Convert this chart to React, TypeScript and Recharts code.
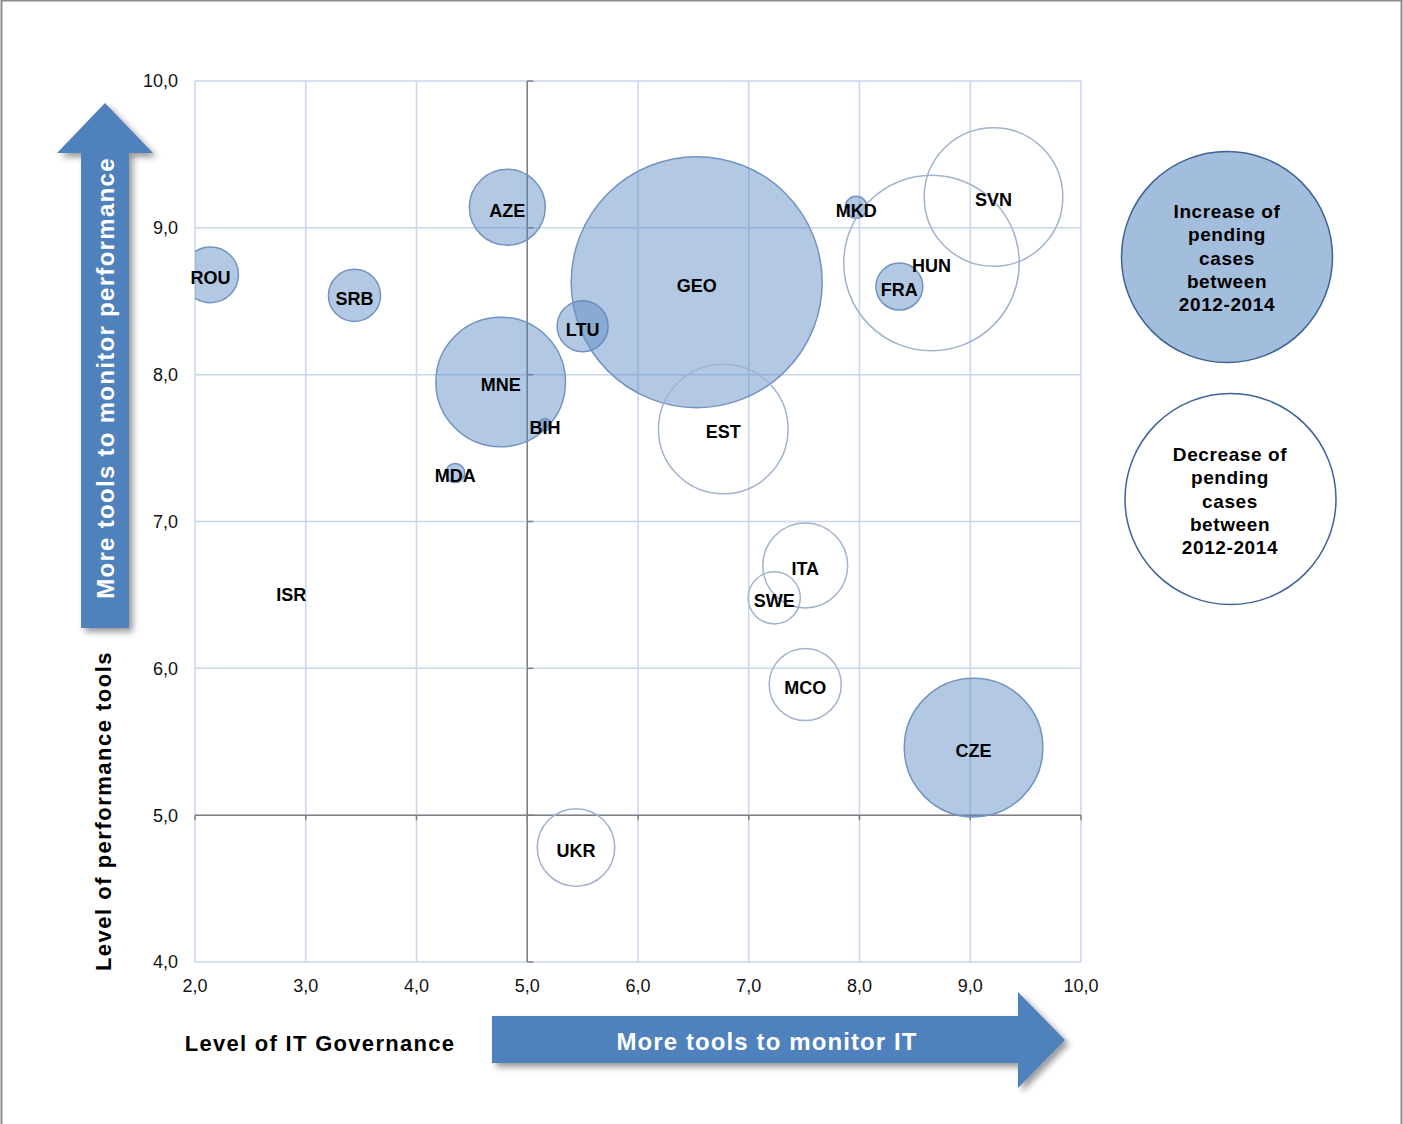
import { ScatterChart, Scatter, XAxis, YAxis, ZAxis, CartesianGrid, ReferenceLine, LabelList } from 'recharts'

const FONT = '"Liberation Sans", Arial, Helvetica, sans-serif'

// bubbles where pending cases went up between 2012 and 2014
const increaseNames = ['ROU', 'SRB', 'AZE', 'MNE', 'MDA', 'BIH', 'LTU', 'GEO', 'MKD', 'FRA', 'CZE']
const increaseIT = [2.14, 3.44, 4.82, 4.76, 4.35, 5.16, 5.5, 6.53, 7.97, 8.36, 9.03]
const increasePerf = [8.68, 8.54, 9.14, 7.95, 7.33, 7.66, 8.33, 8.63, 9.14, 8.6, 5.46]
const increaseSize = [7.8, 6.8, 14.4, 42, 0.9, 0.36, 6.5, 157.5, 1.2, 5.5, 48]

// bubbles where pending cases went down
const decreaseNames = ['ISR', 'UKR', 'EST', 'SWE', 'ITA', 'MCO', 'HUN', 'SVN']
const decreaseIT = [2.87, 5.44, 6.77, 7.23, 7.51, 7.51, 8.65, 9.21]
const decreasePerf = [6.52, 4.78, 7.63, 6.48, 6.7, 5.89, 8.76, 9.21]
const decreaseSize = [0, 15, 42, 6.8, 18, 13, 77, 48]

const xTicks = [2, 3, 4, 5, 6, 7, 8, 9, 10]
const yTicks = [4, 5, 6, 7, 8, 9, 10]

const MAX_SIZE = 157.5
const MAX_RADIUS = 125.5

const W = 1403
const H = 1124
const MARGIN = { top: 81, right: 322, bottom: 132, left: 135 }
const Y_AXIS_W = 60
const X_AXIS_H = 30
const PLOT = {
  x: MARGIN.left + Y_AXIS_W,
  y: MARGIN.top,
  w: W - MARGIN.left - Y_AXIS_W - MARGIN.right,
  h: H - MARGIN.top - MARGIN.bottom - X_AXIS_H,
}

const toPoints = (names: string[], xs: number[], ys: number[], sizes: number[]) =>
  names.map((name, i) => ({ name, x: xs[i], y: ys[i], z: sizes[i] }))

const increaseData = toPoints(increaseNames, increaseIT, increasePerf, increaseSize)
const decreaseData = toPoints(decreaseNames, decreaseIT, decreasePerf, decreaseSize)

const fmt = (v: number) => v.toFixed(1).replace('.', ',')

const AXIS_GRAY = '#808080'
const tickStyle = { fontSize: 18, fill: '#111', fontFamily: FONT }
const labelStyle = {
  fontSize: 18,
  fontWeight: 'bold' as const,
  fill: '#000',
  fontFamily: FONT,
  transform: 'translateY(3px)',
}

// excel clips bubbles to the plot area
function Bubble(props: any) {
  const { cx, cy, size, fill, fillOpacity, stroke, strokeWidth } = props
  const r = Math.sqrt(Math.max(size ?? 0, 0) / Math.PI)
  if (!r) return null
  return (
    <circle
      cx={cx}
      cy={cy}
      r={r}
      fill={fill}
      fillOpacity={fillOpacity}
      stroke={stroke}
      strokeWidth={strokeWidth}
      clipPath="url(#plot-clip)"
    />
  )
}

function Overlay() {
  const boldText = { fontFamily: FONT, fontWeight: 'bold' as const }
  return (
    <svg width={W} height={H} style={{ position: 'absolute', left: 0, top: 0, pointerEvents: 'none' }}>
      <defs>
        <filter id="shadow" x="-30%" y="-30%" width="160%" height="160%">
          <feDropShadow dx="4" dy="4" stdDeviation="3" floodColor="#000" floodOpacity="0.4" />
        </filter>
        <clipPath id="plot-clip" clipPathUnits="userSpaceOnUse">
          <rect x={PLOT.x} y={PLOT.y} width={PLOT.w} height={PLOT.h} />
        </clipPath>
      </defs>
      <polyline points={`1.5,${H} 1.5,0.5 1401.5,0.5 1401.5,${H}`} fill="none" stroke="#8c8c8c" strokeWidth={2} />

      {/* up arrow */}
      <polygon points="81,628 81,153 57,153 105,103 153,153 129,153 129,628" fill="#4f81bd" filter="url(#shadow)" />
      <text x={105} y={378} transform="rotate(-90 105 378)" textAnchor="middle" dominantBaseline="central"
        fill="#fff" fontSize={24} letterSpacing={1.3} {...boldText}>
        More tools to monitor performance
      </text>
      <text x={103} y={811} transform="rotate(-90 103 811)" textAnchor="middle" dominantBaseline="central"
        fill="#000" fontSize={22} letterSpacing={1.5} {...boldText}>
        Level of performance tools
      </text>

      {/* right arrow */}
      <polygon points="492,1016 1018,1016 1018,992 1065,1040 1018,1088 1018,1063 492,1063" fill="#4f81bd" filter="url(#shadow)" />
      <text x={767} y={1041} textAnchor="middle" dominantBaseline="central" fill="#fff" fontSize={24}
        letterSpacing={1.1} {...boldText}>
        More tools to monitor IT
      </text>
      <text x={320} y={1043} textAnchor="middle" dominantBaseline="central" fill="#000" fontSize={22}
        letterSpacing={1.3} {...boldText}>
        Level of IT Governance
      </text>

      {/* legend bubbles */}
      <circle cx={1227} cy={257} r={105.5} fill="#a3bddd" stroke="#3f6297" strokeWidth={1.5} />
      <text textAnchor="middle" fill="#000" fontSize={19} letterSpacing={0.6} {...boldText}>
        {['Increase of', 'pending', 'cases', 'between', '2012-2014'].map((t, i) => (
          <tspan key={t} x={1227} y={218 + i * 23.3}>{t}</tspan>
        ))}
      </text>
      <circle cx={1230.5} cy={499} r={105.5} fill="#fff" stroke="#3f6297" strokeWidth={1.5} />
      <text textAnchor="middle" fill="#000" fontSize={19} letterSpacing={0.6} {...boldText}>
        {['Decrease of', 'pending', 'cases', 'between', '2012-2014'].map((t, i) => (
          <tspan key={t} x={1230} y={461 + i * 23.3}>{t}</tspan>
        ))}
      </text>
    </svg>
  )
}

export default function App() {
  return (
    <div style={{ position: 'absolute', left: 0, top: 0, width: W, height: H, background: '#fff' }}>
      <Overlay />
      <div style={{ position: 'absolute', left: 0, top: 0 }}>
        <ScatterChart width={W} height={H} margin={MARGIN}>
          <CartesianGrid stroke="#c8d6ee" strokeWidth={1.5} />
          <XAxis
            type="number"
            dataKey="x"
            domain={[2, 10]}
            ticks={xTicks}
            allowDataOverflow
            tickFormatter={fmt}
            axisLine={false}
            tickLine={false}
            tickSize={0}
            tickMargin={17}
            height={X_AXIS_H}
            tick={tickStyle}
          />
          <YAxis
            type="number"
            dataKey="y"
            domain={[4, 10]}
            ticks={yTicks}
            allowDataOverflow
            tickFormatter={fmt}
            axisLine={false}
            tickLine={false}
            tickSize={0}
            tickMargin={17}
            width={Y_AXIS_W}
            tick={tickStyle}
          />
          <ZAxis type="number" dataKey="z" domain={[0, MAX_SIZE]} range={[0, Math.PI * MAX_RADIUS * MAX_RADIUS]} />

          <ReferenceLine x={5} stroke={AXIS_GRAY} strokeWidth={1.5} />
          <ReferenceLine y={5} stroke={AXIS_GRAY} strokeWidth={1.5} />
          {yTicks.map((t) => (
            <ReferenceLine key={'yt' + t} segment={[{ x: 5, y: t }, { x: 5.055, y: t }]} stroke={AXIS_GRAY} strokeWidth={1.5} />
          ))}
          {xTicks.map((t) => (
            <ReferenceLine key={'xt' + t} segment={[{ x: t, y: 5 }, { x: t, y: 4.965 }]} stroke={AXIS_GRAY} strokeWidth={1.5} />
          ))}

          <Scatter
            name="Increase of pending cases"
            data={increaseData}
            fill="#4f81bd"
            fillOpacity={0.43}
            stroke="#7393c2"
            strokeWidth={1.5}
            shape={Bubble}
            isAnimationActive={false}
          >
            <LabelList dataKey="name" position="center" style={labelStyle} />
          </Scatter>
          <Scatter
            name="Decrease of pending cases"
            data={decreaseData}
            fill="none"
            stroke="#a0b3cf"
            strokeWidth={1.5}
            shape={Bubble}
            isAnimationActive={false}
          >
            <LabelList dataKey="name" position="center" style={labelStyle} />
          </Scatter>
        </ScatterChart>
      </div>
    </div>
  )
}
